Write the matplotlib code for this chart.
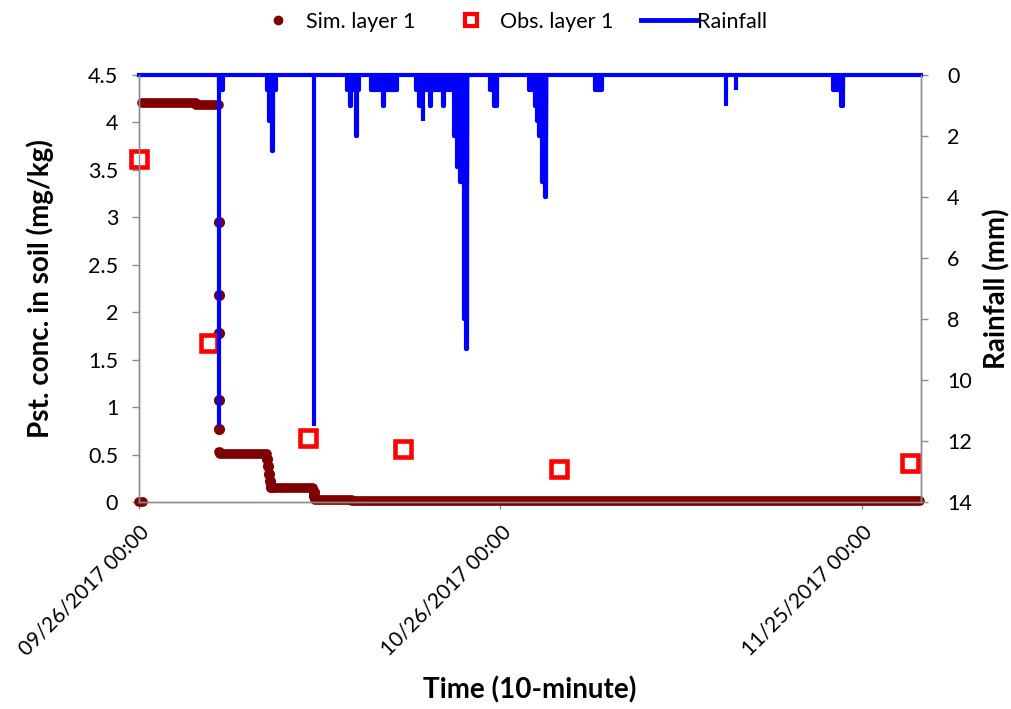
import matplotlib
matplotlib.use('Agg')
import matplotlib.pyplot as plt
import matplotlib.dates as mdates
from matplotlib.lines import Line2D
from matplotlib.ticker import FixedLocator, FuncFormatter
from datetime import datetime

plt.rcParams['font.family'] = ['Lato', 'DejaVu Sans']

start = mdates.date2num(datetime(2017, 9, 26))
x_end_day = 64.9
tick_days = [0, 30, 60]

# simulated conc., plateaus (days since 09/26/2017 00:00)
sim_seg_start = [0.0, 0.25, 4.75, 6.66, 6.75, 10.95, 14.6, 17.7]
sim_seg_end = [0.3, 4.75, 6.60, 6.75, 10.6, 14.45, 17.7, 64.85]
sim_seg_value = [0.0, 4.20, 4.18, 0.53, 0.51, 0.145, 0.025, 0.005]

# simulated conc., single points while it drops
sim_pt_day = [6.62, 6.62, 6.62, 6.62, 6.62, 10.62, 10.70, 10.78, 10.86, 10.94, 14.50, 14.55]
sim_pt_value = [2.95, 2.18, 1.78, 1.07, 0.77, 0.45, 0.38, 0.30, 0.22, 0.16, 0.10, 0.06]

# observed conc.
obs_day = [0.0, 5.8, 14.0, 21.9, 34.9, 64.0]
obs_value = [3.62, 1.68, 0.67, 0.56, 0.35, 0.41]

# rainfall events (day from, day to, mm)
rain_start = [6.60, 6.61, 10.62, 10.79, 11.08, 14.53, 17.30, 17.49, 17.98,
              19.24, 20.24, 22.97, 23.26, 23.55, 24.17, 25.27, 26.15, 26.43,
              26.62, 26.99, 27.12, 29.11, 29.48, 32.38, 32.88, 33.07, 33.24,
              33.49, 33.74, 37.88, 48.71, 49.54, 57.61, 58.26]
rain_end = [6.99, 6.63, 11.37, 11.12, 11.16, 14.55, 18.27, 17.56, 18.06,
            21.45, 20.32, 27.26, 23.51, 23.60, 24.21, 25.31, 27.26, 27.26,
            27.26, 27.26, 27.20, 29.69, 29.69, 33.78, 33.78, 33.78, 33.78,
            33.78, 33.78, 38.42, 48.76, 49.58, 58.41, 58.41]
rain_mm = [0.5, 11.5, 0.5, 1.5, 2.5, 11.5, 0.5, 1.0, 2.0,
           0.5, 1.0, 0.5, 1.0, 1.5, 1.0, 1.0, 2.0, 3.0,
           3.5, 8.0, 9.0, 0.5, 1.0, 0.5, 1.0, 1.5, 2.0,
           3.5, 4.0, 0.5, 1.0, 0.5, 0.5, 1.0]

sim_color = '#800000'
obs_color = '#ff0000'
rain_color = '#0000ff'
axis_color = '#8c8c8c'

fig = plt.figure(figsize=(10.11, 7.09), dpi=100)
ax = fig.add_axes([0.1375, 0.292, 0.7733, 0.6022])
ax2 = ax.twinx()

ax.hlines(sim_seg_value, [start + d for d in sim_seg_start], [start + d for d in sim_seg_end],
          colors=sim_color, lw=7, capstyle='round', clip_on=False, zorder=2)
ax.plot([start + d for d in sim_pt_day], sim_pt_value, ls='none', marker='o', ms=7,
        color=sim_color, clip_on=False, zorder=2)
ax.plot([start + d for d in obs_day], obs_value, ls='none', marker='s', ms=12, mfc='white',
        mec=obs_color, mew=3.3, clip_on=False, zorder=3)

rain_x = [start + d for d in rain_start]
rain_w = [e - s for s, e in zip(rain_start, rain_end)]
ax2.bar(rain_x, rain_mm, width=rain_w, align='edge', color=rain_color,
        edgecolor=rain_color, linewidth=3, joinstyle='round')
ax2.plot([start, start + x_end_day], [0, 0], color=rain_color, lw=3, clip_on=False)

ax.set_xlim(start, start + x_end_day)
ax.set_ylim(0, 4.5)
ax2.set_ylim(14, 0)

ax.xaxis.set_major_locator(FixedLocator([start + d for d in tick_days]))
ax.xaxis.set_major_formatter(mdates.DateFormatter('%m/%d/%Y %H:%M'))
ax.set_yticks([i * 0.5 for i in range(10)])
ax.yaxis.set_major_formatter(FuncFormatter(lambda v, p: f'{v:g}'))
ax2.set_yticks(range(0, 15, 2))

for a in (ax, ax2):
    for s in a.spines.values():
        s.set_color(axis_color)
        s.set_linewidth(1)
    a.spines['top'].set_visible(False)
    a.tick_params(colors=axis_color, labelcolor='black', labelsize=15.5, length=5, width=1)
ax.tick_params(axis='x', labelsize=15, pad=9)
ax.tick_params(axis='y', pad=10)
ax2.tick_params(axis='y', pad=14)

for lab in ax.get_xticklabels():
    lab.set_rotation(45)
    lab.set_ha('right')
    lab.set_rotation_mode('anchor')

ax.set_ylabel('Pst. conc. in soil (mg/kg)', fontsize=20, fontweight='bold')
ax.yaxis.set_label_coords(-0.127, 0.5)
ax.yaxis.label.set_va('center')
ax2.set_ylabel('Rainfall (mm)', fontsize=20, fontweight='bold')
ax2.yaxis.set_label_coords(1.097, 0.5)
ax2.yaxis.label.set_va('center')
ax.set_xlabel('Time (10-minute)', fontsize=20, fontweight='bold')
ax.xaxis.set_label_coords(0.5, -0.44)
ax.xaxis.label.set_va('center')

handles = [
    Line2D([], [], ls='none', marker='o', ms=6, color=sim_color),
    Line2D([], [], ls='none', marker='s', ms=9, mfc='white', mec=obs_color, mew=3),
    Line2D([], [], color=rain_color, lw=3.5),
]
fig.legend(handles, ['Sim. layer 1', 'Obs. layer 1', 'Rainfall'], loc='center',
           bbox_to_anchor=(0.503, 0.969), ncol=3, frameon=False, fontsize=15.5,
           numpoints=1, handlelength=2.55, handletextpad=0.05, columnspacing=1.3)

fig.savefig('out.png', dpi=100)
